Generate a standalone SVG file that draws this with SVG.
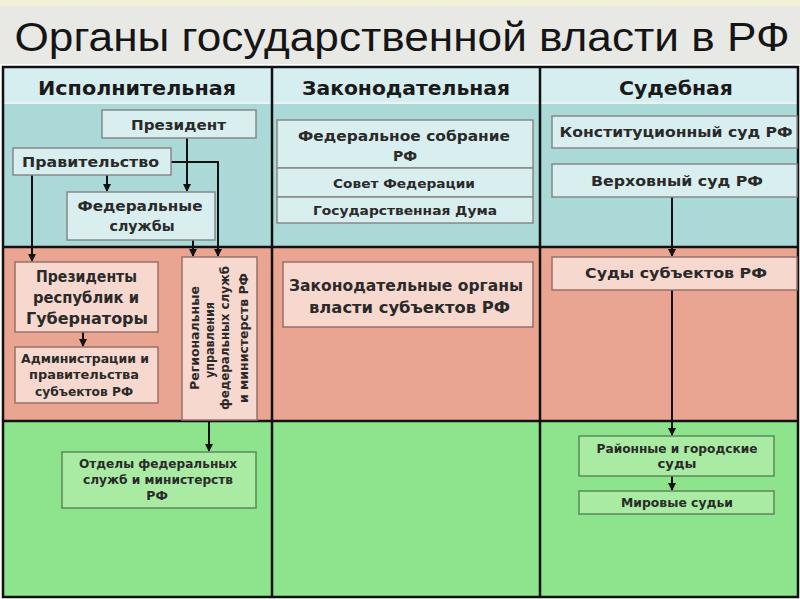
<svg xmlns="http://www.w3.org/2000/svg" width="800" height="599" viewBox="0 0 800 599">
<defs>
<style>
.t{font-family:"DejaVu Sans","Liberation Sans",Arial,sans-serif;font-weight:bold;fill:#2a2a2a;text-anchor:middle}
.h{font-size:19px;fill:#1a1a1a}
.bc{fill:#d9eeee;stroke:#888;stroke-width:1.5}
.bp{fill:#f6d8ce;stroke:#9a7068;stroke-width:1.5}
.bg{fill:#a9eba2;stroke:#5a8a5a;stroke-width:1.5}
.c{fill:none;stroke:#111;stroke-width:2}
.g{stroke:#111;stroke-width:2.5;fill:none}
</style>
<marker id="a" markerWidth="8" markerHeight="8" refX="7" refY="4" orient="auto" markerUnits="userSpaceOnUse">
<path d="M0,0 L8,4 L0,8 Z" fill="#111"/>
</marker>
</defs>
<rect x="0" y="0" width="800" height="599" fill="#ffffff"/>
<rect x="0" y="0" width="800" height="64" fill="#e8e8e5"/>
<rect x="0" y="0" width="800" height="6" fill="#f3efd8"/>
<text x="402" y="51" font-family="'Liberation Sans',Arial,sans-serif" font-size="40" fill="#151515" text-anchor="middle" textLength="775" lengthAdjust="spacingAndGlyphs">Органы государственной власти в РФ</text>

<g id="table">
<rect x="3" y="67" width="795" height="36" fill="#d6eef0"/>
<rect x="3" y="103" width="795" height="144" fill="#abd9d8"/>
<rect x="3" y="247" width="795" height="174" fill="#e9a492"/>
<rect x="3" y="421" width="795" height="176" fill="#8ee38d"/>
<line x1="3" y1="103" x2="798" y2="103" stroke="#e8f4f4" stroke-width="2"/>
<line x1="3" y1="247" x2="798" y2="247" class="g"/>
<line x1="3" y1="421" x2="798" y2="421" class="g"/>
<line x1="272" y1="67" x2="272" y2="597" class="g"/>
<line x1="540" y1="67" x2="540" y2="597" class="g"/>
<rect x="3" y="67" width="795" height="530" class="g"/>
<text class="t h" x="137" y="95" textLength="198" lengthAdjust="spacingAndGlyphs">Исполнительная</text>
<text class="t h" x="406" y="95" textLength="208" lengthAdjust="spacingAndGlyphs">Законодательная</text>
<text class="t h" x="676" y="95" textLength="114" lengthAdjust="spacingAndGlyphs">Судебная</text>
</g>

<g id="connectors">
<path class="c" d="M187 138 V191" marker-end="url(#a)"/>
<path class="c" d="M107 175 V191" marker-end="url(#a)"/>
<path class="c" d="M32 175 V261" marker-end="url(#a)"/>
<path class="c" d="M171 162 H218 V256" marker-end="url(#a)"/>
<path class="c" d="M193 240 V256" marker-end="url(#a)"/>
<path class="c" d="M83 332 V346" marker-end="url(#a)"/>
<path class="c" d="M209 420 V451" marker-end="url(#a)"/>
<path class="c" d="M672 197 V256" marker-end="url(#a)"/>
<path class="c" d="M672 290 V435" marker-end="url(#a)"/>
<path class="c" d="M672 476 V490" marker-end="url(#a)"/>
</g>

<g id="president"><rect class="bc" x="102" y="110" width="154" height="28"/><text class="t" x="178.5" y="130" font-size="14" textLength="95" lengthAdjust="spacingAndGlyphs">Президент</text></g>
<g id="government"><rect class="bc" x="13" y="148" width="158" height="27"/><text class="t" x="90.5" y="167" font-size="14" textLength="137" lengthAdjust="spacingAndGlyphs">Правительство</text></g>
<g id="fed-services"><rect class="bc" x="67" y="192" width="148" height="48"/><text class="t" x="140" y="211" font-size="14" textLength="125" lengthAdjust="spacingAndGlyphs">Федеральные</text><text class="t" x="142" y="231" font-size="14" textLength="65" lengthAdjust="spacingAndGlyphs">службы</text></g>

<g id="presidents-rep"><rect class="bp" x="15" y="262" width="143" height="70"/><text class="t" x="86.5" y="282" font-size="15.5" textLength="101" lengthAdjust="spacingAndGlyphs">Президенты</text><text class="t" x="86" y="303" font-size="15.5" textLength="106" lengthAdjust="spacingAndGlyphs">республик и</text><text class="t" x="87" y="324" font-size="15.5" textLength="122" lengthAdjust="spacingAndGlyphs">Губернаторы</text></g>
<g id="admin"><rect class="bp" x="15" y="347" width="143" height="56"/><text class="t" x="85" y="363" font-size="12.5" textLength="128" lengthAdjust="spacingAndGlyphs">Администрации и</text><text class="t" x="84" y="379" font-size="12.5" textLength="110" lengthAdjust="spacingAndGlyphs">правительства</text><text class="t" x="84" y="396" font-size="12.5" textLength="98" lengthAdjust="spacingAndGlyphs">субъектов РФ</text></g>
<g id="regional"><rect class="bp" x="182" y="257" width="75" height="163"/>
<g transform="translate(219.5 338) rotate(-90)">
<text class="t" x="0" y="-21" font-size="12" textLength="104" lengthAdjust="spacingAndGlyphs">Региональные</text>
<text class="t" x="-2" y="-6" font-size="12" textLength="76" lengthAdjust="spacingAndGlyphs">управления</text>
<text class="t" x="0" y="9" font-size="12" textLength="144" lengthAdjust="spacingAndGlyphs">федеральных служб</text>
<text class="t" x="0" y="28" font-size="12" textLength="130" lengthAdjust="spacingAndGlyphs">и министерств РФ</text>
</g></g>
<g id="departments"><rect class="bg" x="62" y="452" width="194" height="56"/><text class="t" x="158" y="468" font-size="12.5" textLength="158" lengthAdjust="spacingAndGlyphs">Отделы федеральных</text><text class="t" x="158" y="484" font-size="12.5" textLength="150" lengthAdjust="spacingAndGlyphs">служб и министерств</text><text class="t" x="157" y="500" font-size="12.5">РФ</text></g>

<g id="fed-assembly"><rect class="bc" x="277" y="120" width="256" height="48"/><text class="t" x="404" y="141" font-size="14" textLength="212" lengthAdjust="spacingAndGlyphs">Федеральное собрание</text><text class="t" x="405" y="161" font-size="14">РФ</text></g>
<g id="fed-council"><rect class="bc" x="277" y="168" width="256" height="29"/><text class="t" x="404" y="188" font-size="13" textLength="142" lengthAdjust="spacingAndGlyphs">Совет Федерации</text></g>
<g id="duma"><rect class="bc" x="277" y="197" width="256" height="26"/><text class="t" x="405" y="215" font-size="13" textLength="184" lengthAdjust="spacingAndGlyphs">Государственная Дума</text></g>
<g id="reg-legislative"><rect class="bp" x="283" y="262" width="250" height="65"/><text class="t" x="406" y="291" font-size="15" textLength="234" lengthAdjust="spacingAndGlyphs">Законодательные органы</text><text class="t" x="409.5" y="313" font-size="15" textLength="201" lengthAdjust="spacingAndGlyphs">власти субъектов  РФ</text></g>

<g id="const-court"><rect class="bc" x="552" y="116" width="245" height="32"/><text class="t" x="676" y="137" font-size="14" textLength="233" lengthAdjust="spacingAndGlyphs">Конституционный суд РФ</text></g>
<g id="supreme-court"><rect class="bc" x="552" y="164" width="245" height="33"/><text class="t" x="677" y="186" font-size="14" textLength="172" lengthAdjust="spacingAndGlyphs">Верховный суд РФ</text></g>
<g id="subject-courts"><rect class="bp" x="552" y="257" width="245" height="33"/><text class="t" x="676" y="278" font-size="14" textLength="182" lengthAdjust="spacingAndGlyphs">Суды субъектов РФ</text></g>
<g id="district-courts"><rect class="bg" x="579" y="436" width="195" height="40"/><text class="t" x="677" y="453" font-size="12.5" textLength="161" lengthAdjust="spacingAndGlyphs">Районные и городские</text><text class="t" x="677" y="468" font-size="12.5" textLength="39" lengthAdjust="spacingAndGlyphs">суды</text></g>
<g id="magistrates"><rect class="bg" x="579" y="491" width="195" height="23"/><text class="t" x="677" y="507" font-size="12.5" textLength="112" lengthAdjust="spacingAndGlyphs">Мировые судьи</text></g>
</svg>
